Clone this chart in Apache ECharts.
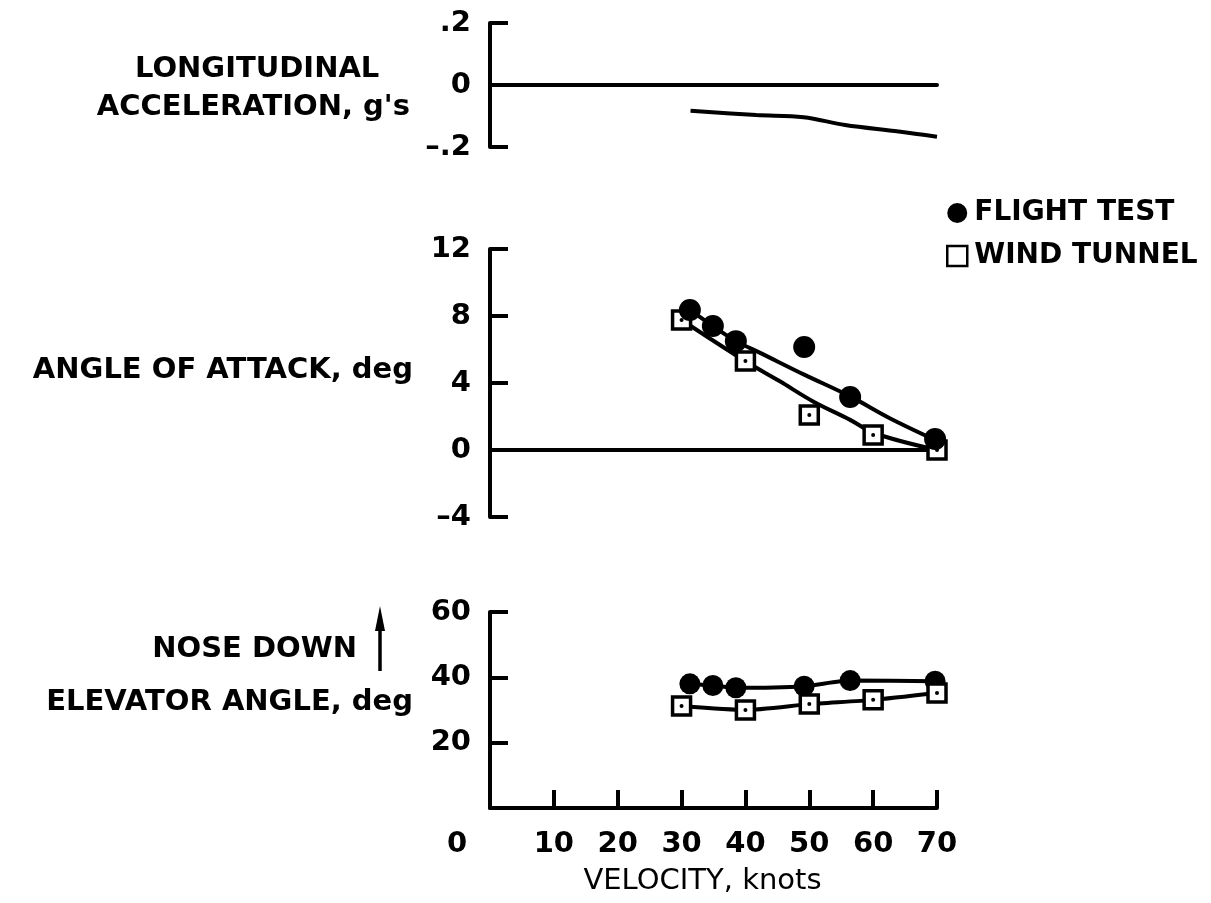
<!DOCTYPE html>
<html>
<head>
<meta charset="utf-8">
<title>Velocity sweep</title>
<script src="https://cdn.jsdelivr.net/npm/echarts@6/dist/echarts.min.js"></script>
<style>
  html, body { margin: 0; padding: 0; background: #fff; }
  #chart { width: 1211px; height: 903px; }
</style>
</head>
<body>
<div id="chart"></div>
<script>
// Longitudinal acceleration trace, g's
const accelVelocity = [31.4, 41.7, 49.1, 55.6, 64, 70];
const accelG = [-0.083, -0.097, -0.104, -0.129, -0.15, -0.167];

// Angle of attack, deg
const ftVelocity = [31.3, 34.9, 38.5, 49.2, 56.4, 69.7];
const ftAlpha = [8.36, 7.4, 6.5, 6.15, 3.16, 0.66];
const wtVelocity = [30, 40, 50, 60, 70];
const wtAlpha = [7.76, 5.31, 2.09, 0.9, 0];

// faired curves through the angle of attack data
const ftFairVelocity = [31.3, 34.9, 38.5, 42.3, 49.2, 56.4, 62.6, 69.7];
const ftFairAlpha = [8.36, 7.4, 6.5, 5.8, 4.5, 3.2, 1.9, 0.6];
const wtFairVelocity = [30, 40, 45.4, 50.6, 56.4, 60.2, 70];
const wtFairAlpha = [7.76, 5.3, 4.1, 2.9, 1.8, 1.0, 0];

// Elevator angle, deg
const ftElevator = [38, 37.5, 36.8, 37.3, 39, 38.8];
const wtElevator = [31.2, 30, 31.8, 33.1, 35.2];

const velocityTicks = ['0', '10', '20', '30', '40', '50', '60', '70'];

const pairs = (xs, ys) => xs.map((x, i) => [x, ys[i]]);

const FONT = 'DejaVu Sans';
const INK = '#000';
const AXW = 4;
const TITLE_FONT = 'bold 29px "DejaVu Sans"';

const axisLine = { show: true, onZero: true, lineStyle: { color: INK, width: AXW } };
const hiddenX = (gridIndex) => ({
  type: 'value', gridIndex, min: 0, max: 70, interval: 10,
  axisLine: axisLine,
  axisTick: { show: false },
  axisLabel: { show: false },
  splitLine: { show: false }
});
const leftY = (gridIndex, min, max, interval, fmt) => ({
  type: 'value', gridIndex, min, max, interval,
  axisLine: { show: true, lineStyle: { color: INK, width: AXW } },
  axisTick: { show: true, inside: true, length: 18, lineStyle: { color: INK, width: AXW } },
  axisLabel: {
    margin: 19, color: INK, fontFamily: FONT, fontWeight: 'bold', fontSize: 29,
    formatter: fmt
  },
  splitLine: { show: false }
});

const fairLine = (name, xi, data) => ({
  name, type: 'line', xAxisIndex: xi, yAxisIndex: xi, data,
  smooth: 0.35, symbol: 'none', silent: true,
  lineStyle: { color: INK, width: 4 }, z: 2
});

const option = {
  animation: false,
  backgroundColor: '#fff',
  grid: [
    { left: 490, width: 447, top: 23, height: 124 },
    { left: 490, width: 447, top: 249, height: 268 },
    { left: 490, width: 447, top: 612, height: 196 }
  ],
  legend: {
    orient: 'vertical', left: 941, top: 194, itemWidth: 20, itemHeight: 20,
    itemGap: 15, selectedMode: false,
    textStyle: { color: INK, fontFamily: FONT, fontWeight: 'bold', fontSize: 28, padding: [0, 0, 0, 2] },
    data: [
      { name: 'FLIGHT TEST', icon: 'circle', itemStyle: { color: INK, opacity: 1 } },
      { name: 'WIND TUNNEL', icon: 'rect', itemStyle: { color: '#fff', borderColor: INK, borderWidth: 2.5, opacity: 1 } }
    ]
  },
  xAxis: [
    hiddenX(0),
    hiddenX(1),
    {
      type: 'value', gridIndex: 2, min: 0, max: 70, interval: 10,
      name: 'VELOCITY, knots', nameLocation: 'middle', nameGap: 59,
      nameTextStyle: { color: INK, fontFamily: FONT, fontSize: 29, padding: [0, 22, 0, 0] },
      axisLine: { show: true, lineStyle: { color: INK, width: AXW } },
      axisTick: { show: true, inside: true, length: 18, lineStyle: { color: INK, width: AXW } },
      axisLabel: {
        margin: 22, color: INK, fontFamily: FONT, fontWeight: 'bold', fontSize: 29,
        formatter: v => (v === 0 ? '{z|' + velocityTicks[0] + '}' : velocityTicks[v / 10]),
        rich: { z: { padding: [0, 66, 0, 0], color: INK, fontFamily: FONT, fontWeight: 'bold', fontSize: 29 } }
      },
      splitLine: { show: false }
    }
  ],
  yAxis: [
    leftY(0, -0.2, 0.2, 0.2, v => (v === 0 ? '0' : (v > 0 ? '.2' : '\u2013.2'))),
    leftY(1, -4, 12, 4, v => (v < 0 ? '\u2013' + Math.abs(v) : String(v))),
    leftY(2, 0, 60, 20, v => (v === 0 ? '' : String(v)))
  ],
  series: [
    fairLine('accel', 0, pairs(accelVelocity, accelG)),
    fairLine('ft fair', 1, pairs(ftFairVelocity, ftFairAlpha)),
    fairLine('wt fair', 1, pairs(wtFairVelocity, wtFairAlpha)),
    {
      name: 'FLIGHT TEST', type: 'scatter', xAxisIndex: 1, yAxisIndex: 1,
      data: pairs(ftVelocity, ftAlpha), symbol: 'circle', symbolSize: 22,
      itemStyle: { color: INK, opacity: 1 }, z: 4
    },
    {
      name: 'WIND TUNNEL', type: 'scatter', xAxisIndex: 1, yAxisIndex: 1,
      data: pairs(wtVelocity, wtAlpha), symbol: 'rect', symbolSize: 18,
      itemStyle: { color: '#fff', borderColor: INK, borderWidth: 3.5, opacity: 1 }, z: 3
    },
    {
      name: 'wt dot a', type: 'scatter', xAxisIndex: 1, yAxisIndex: 1, silent: true,
      data: pairs(wtVelocity, wtAlpha), symbol: 'circle', symbolSize: 4,
      itemStyle: { color: INK, opacity: 1 }, z: 3
    },
    {
      name: 'ft elevator', type: 'line', xAxisIndex: 2, yAxisIndex: 2,
      data: pairs(ftVelocity, ftElevator), smooth: 0.2,
      symbol: 'circle', symbolSize: 21, showSymbol: true,
      itemStyle: { color: INK }, lineStyle: { color: INK, width: 4 }, z: 3
    },
    {
      name: 'wt elevator', type: 'line', xAxisIndex: 2, yAxisIndex: 2,
      data: pairs(wtVelocity, wtElevator), smooth: 0.2,
      symbol: 'rect', symbolSize: 18, showSymbol: true,
      itemStyle: { color: '#fff', borderColor: INK, borderWidth: 3.5 },
      lineStyle: { color: INK, width: 4 }, z: 3
    },
    {
      name: 'wt dot b', type: 'scatter', xAxisIndex: 2, yAxisIndex: 2, silent: true,
      data: pairs(wtVelocity, wtElevator), symbol: 'circle', symbolSize: 4,
      itemStyle: { color: INK, opacity: 1 }, z: 4
    }
  ],
  graphic: [
    { type: 'text', left: 135, top: 55, style: { text: 'LONGITUDINAL', fill: INK, font: TITLE_FONT } },
    { type: 'text', right: 1211 - 410, top: 93, style: { text: 'ACCELERATION, g\'s', fill: INK, font: TITLE_FONT } },
    { type: 'text', right: 1211 - 413, top: 356, style: { text: 'ANGLE OF ATTACK, deg', fill: INK, font: TITLE_FONT } },
    { type: 'text', right: 1211 - 357, top: 635, style: { text: 'NOSE DOWN', fill: INK, font: TITLE_FONT } },
    { type: 'text', right: 1211 - 413, top: 688, style: { text: 'ELEVATOR ANGLE, deg', fill: INK, font: TITLE_FONT } },
    {
      type: 'group', left: 375, top: 606,
      children: [
        { type: 'line', shape: { x1: 6, y1: 22, x2: 6, y2: 65 }, style: { stroke: INK, lineWidth: 3.5 } },
        { type: 'polygon', shape: { points: [[6, 0], [1, 25], [11, 25]] }, style: { fill: INK } }
      ]
    }
  ]
};

const chart = echarts.init(document.getElementById('chart'), null, { renderer: 'canvas' });
chart.setOption(option);
</script>
</body>
</html>
